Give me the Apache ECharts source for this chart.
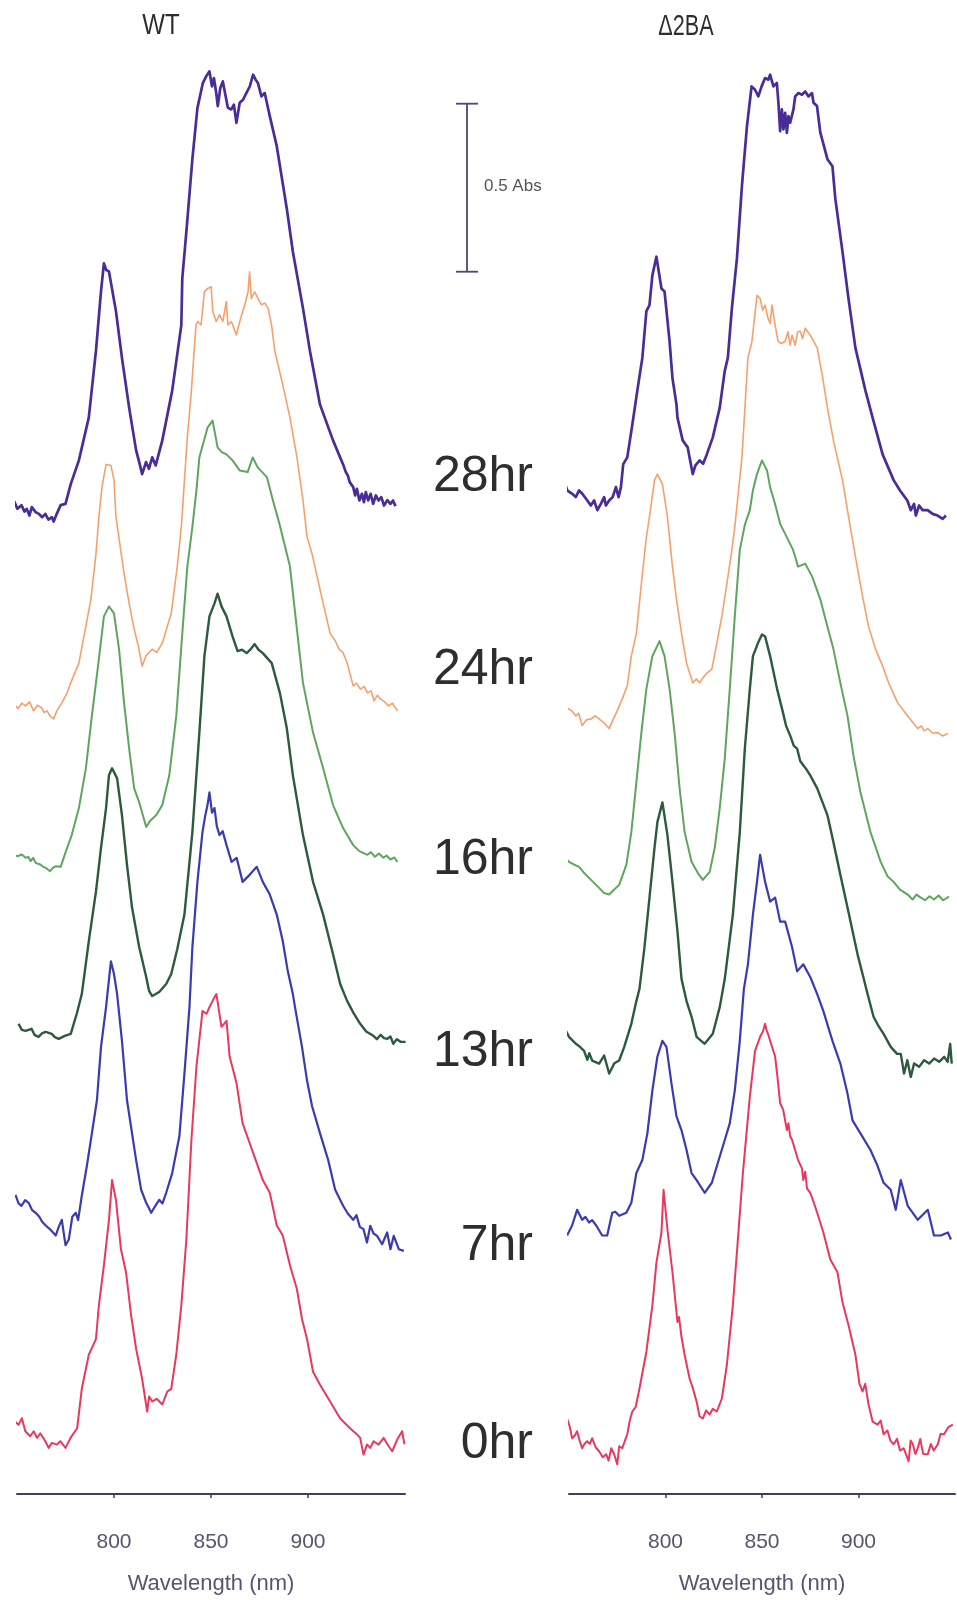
<!DOCTYPE html>
<html><head><meta charset="utf-8">
<script src="https://cdn.jsdelivr.net/npm/echarts@6/dist/echarts.min.js"></script>
<style>html,body{margin:0;padding:0;background:#fff}#c{width:957px;height:1600px}</style>
</head><body><div id="c"></div>
<script>
// ---------- text / ticks ----------
const panelTitles = ['WT', '\u03942BA'];
const timeLabels = ['28hr', '24hr', '16hr', '13hr', '7hr', '0hr'];
const tickValues = [800, 850, 900];
const xAxisName = 'Wavelength (nm)';
const scaleBarLabel = '0.5 Abs';
const scaleBarRange = [3.664, 4.164]; // 0.5 Abs span (stacked plot units)

// ---------- WT spectra [wavelength nm, stacked absorbance] ----------
const wt28 = [[745.6,2.970],[747.2,2.955],[748.6,2.972],[750.2,2.950],[752.3,2.961],[753.8,2.942],[755.0,2.950],[756.4,2.930],[757.6,2.955],[759.6,2.940],[761.2,2.935],[763.0,2.925],[764.6,2.935],[766.2,2.918],[768.0,2.925],[768.9,2.912],[770.5,2.935],[772.5,2.961],[775.0,2.965],[777.7,3.024],[781.9,3.095],[787.0,3.223],[790.7,3.423],[793.3,3.601],[794.8,3.685],[796.0,3.665],[797.4,3.661],[801.0,3.542],[804.1,3.402],[807.8,3.253],[811.4,3.125],[813.0,3.090],[814.5,3.054],[816.5,3.090],[818.0,3.070],[819.7,3.104],[821.5,3.080],[824.9,3.155],[830.0,3.304],[834.7,3.500],[835.2,3.640],[837.3,3.780],[840.4,3.997],[843.0,4.150],[845.8,4.225],[847.5,4.245],[849.2,4.260],[850.5,4.215],[851.5,4.240],[852.7,4.195],[853.5,4.156],[854.8,4.210],[856.1,4.230],[857.4,4.190],[858.7,4.151],[860.5,4.146],[861.8,4.160],[863.1,4.106],[864.8,4.166],[866.5,4.175],[868.2,4.195],[870.0,4.215],[871.7,4.250],[873.0,4.235],[874.2,4.225],[876.0,4.185],[877.7,4.195],[880.3,4.126],[883.9,4.036],[889.1,3.848],[892.2,3.720],[897.4,3.551],[901.0,3.423],[906.2,3.262],[912.9,3.155],[918.1,3.083],[919.5,3.060],[920.5,3.050],[921.5,3.030],[923.3,3.015],[924.3,2.990],[925.2,3.010],[926.5,2.975],[927.8,2.995],[928.8,2.970],[929.8,3.000],[931.0,2.975],[932.3,2.995],[933.6,2.965],[935.0,2.990],[936.3,2.975],[937.8,2.985],[939.2,2.960],[940.9,2.976],[942.5,2.965],[943.8,2.975],[945.1,2.958]];
const wt24 = [[746.6,2.351],[748.5,2.365],[750.5,2.352],[752.5,2.368],[754.4,2.360],[756.5,2.372],[758.5,2.345],[760.5,2.362],[762.7,2.354],[764.0,2.340],[765.5,2.345],[767.0,2.330],[768.9,2.321],[770.5,2.345],[773.1,2.369],[775.5,2.395],[777.7,2.429],[781.9,2.488],[784.5,2.568],[788.1,2.679],[790.7,2.815],[792.2,2.926],[793.8,3.015],[795.9,3.083],[798.4,3.080],[800.0,3.036],[801.0,2.926],[805.2,2.756],[807.8,2.667],[810.4,2.589],[812.5,2.540],[814.5,2.479],[816.5,2.510],[819.7,2.530],[822.0,2.520],[824.9,2.548],[829.5,2.637],[832.6,2.777],[834.7,2.896],[837.8,3.164],[839.9,3.304],[841.4,3.432],[842.3,3.501],[843.2,3.511],[844.9,3.501],[846.6,3.600],[848.3,3.610],[850.1,3.615],[850.9,3.541],[852.7,3.511],[854.4,3.531],[856.1,3.511],[857.9,3.571],[858.7,3.501],[860.5,3.511],[863.1,3.471],[864.8,3.511],[867.4,3.561],[869.1,3.600],[869.9,3.660],[870.8,3.580],[872.5,3.600],[874.2,3.580],[876.0,3.561],[877.7,3.566],[879.4,3.551],[881.2,3.501],[882.9,3.422],[887.0,3.321],[890.7,3.223],[894.3,3.104],[897.4,2.976],[899.5,2.866],[902.1,2.815],[906.2,2.708],[911.4,2.577],[914.0,2.555],[916.0,2.530],[918.0,2.520],[920.2,2.488],[923.3,2.420],[925.0,2.428],[927.0,2.410],[929.0,2.418],[930.6,2.399],[932.5,2.405],[934.0,2.375],[935.8,2.392],[937.3,2.381],[939.5,2.372],[941.5,2.360],[943.5,2.368],[946.1,2.345]];
const wt16 = [[746.6,1.920],[748.5,1.912],[750.5,1.910],[752.5,1.915],[754.4,1.905],[755.8,1.908],[757.0,1.895],[758.3,1.905],[759.6,1.890],[762.0,1.885],[763.5,1.878],[764.8,1.875],[767.0,1.865],[768.5,1.875],[770.0,1.880],[772.5,1.878],[775.1,1.923],[778.2,1.973],[781.9,2.054],[785.5,2.173],[788.6,2.330],[792.2,2.500],[794.8,2.628],[797.4,2.658],[800.0,2.637],[802.6,2.530],[805.2,2.369],[807.8,2.232],[810.4,2.113],[813.0,2.071],[816.6,1.997],[818.5,2.015],[821.8,2.033],[824.9,2.063],[828.5,2.152],[832.1,2.330],[835.2,2.577],[837.8,2.777],[840.4,2.896],[842.5,3.006],[844.0,3.104],[848.2,3.193],[850.8,3.214],[853.4,3.134],[855.5,3.120],[858.0,3.113],[861.1,3.095],[864.8,3.065],[868.9,3.060],[871.5,3.104],[874.1,3.074],[878.8,3.045],[881.9,2.976],[885.0,2.911],[887.6,2.851],[890.7,2.777],[894.3,2.589],[897.4,2.429],[902.6,2.280],[907.8,2.173],[912.9,2.063],[918.1,1.994],[923.3,1.943],[926.5,1.925],[930.6,1.914],[932.5,1.922],[934.5,1.908],[936.5,1.918],[938.9,1.905],[940.5,1.912],[942.5,1.900],[944.5,1.906],[946.1,1.893]];
const wt13 = [[750.8,1.408],[752.5,1.390],[754.4,1.387],[757.5,1.393],[759.0,1.375],[761.1,1.369],[763.0,1.380],[764.8,1.384],[767.9,1.378],[769.5,1.368],[771.5,1.363],[774.6,1.372],[777.7,1.378],[780.8,1.438],[783.4,1.497],[787.0,1.655],[790.7,1.804],[793.3,1.935],[795.9,2.054],[797.4,2.152],[799.0,2.173],[801.6,2.143],[804.1,2.033],[806.7,1.884],[809.3,1.756],[813.0,1.637],[816.6,1.548],[818.1,1.506],[819.7,1.491],[823.3,1.503],[826.9,1.527],[829.5,1.557],[832.6,1.631],[836.3,1.735],[840.4,1.982],[844.0,2.280],[846.6,2.509],[849.2,2.628],[851.8,2.667],[853.4,2.696],[855.4,2.658],[858.0,2.628],[861.1,2.568],[863.7,2.524],[866.0,2.528],[868.4,2.518],[870.5,2.530],[872.5,2.545],[874.5,2.528],[876.7,2.518],[881.3,2.488],[885.5,2.399],[889.1,2.292],[892.2,2.152],[897.4,1.973],[902.6,1.833],[907.8,1.735],[912.9,1.616],[916.6,1.527],[920.2,1.476],[923.5,1.440],[926.9,1.408],[930.0,1.385],[933.7,1.372],[935.5,1.362],[937.5,1.375],[939.2,1.365],[940.9,1.363],[942.5,1.370],[944.0,1.348],[945.8,1.362],[947.7,1.354],[950.3,1.354]];
const wt7 = [[749.2,0.896],[750.8,0.870],[752.3,0.863],[754.2,0.880],[756.0,0.872],[757.8,0.850],[759.6,0.842],[761.5,0.830],[763.0,0.815],[764.8,0.804],[767.5,0.790],[770.0,0.774],[771.5,0.800],[773.1,0.821],[775.0,0.745],[776.7,0.762],[778.5,0.830],[780.3,0.842],[781.5,0.820],[783.4,0.893],[786.0,0.982],[788.6,1.080],[791.2,1.179],[793.3,1.339],[795.9,1.458],[798.4,1.595],[800.0,1.557],[801.6,1.497],[804.1,1.357],[806.7,1.179],[809.3,1.080],[811.4,1.000],[814.0,0.911],[816.6,0.872],[819.2,0.842],[821.0,0.860],[823.3,0.881],[825.0,0.870],[826.9,0.902],[830.0,0.961],[833.7,1.071],[836.3,1.259],[838.9,1.458],[840.4,1.637],[843.0,1.833],[845.6,1.982],[847.0,2.030],[848.2,2.063],[849.2,2.101],[850.5,2.040],[851.8,2.054],[853.0,2.000],[854.4,1.973],[856.0,1.985],[858.0,1.943],[860.6,1.893],[863.2,1.905],[866.3,1.833],[869.9,1.854],[873.6,1.878],[876.7,1.833],[880.3,1.795],[883.9,1.735],[887.0,1.655],[889.6,1.565],[892.2,1.497],[893.3,1.458],[896.9,1.339],[899.5,1.238],[902.1,1.161],[906.2,1.080],[910.4,1.000],[914.0,0.911],[918.1,0.863],[920.5,0.840],[923.3,0.821],[925.0,0.835],[926.7,0.800],[928.6,0.793],[930.4,0.753],[932.1,0.803],[933.8,0.780],[935.6,0.773],[938.2,0.748],[940.8,0.783],[942.5,0.733],[944.2,0.773],[946.8,0.733],[949.4,0.728]];
const wt0 = [[749.0,0.217],[750.8,0.207],[752.5,0.227],[754.3,0.188],[756.8,0.173],[758.6,0.188],[760.3,0.168],[762.0,0.182],[764.6,0.158],[766.3,0.138],[768.0,0.153],[770.6,0.148],[772.4,0.158],[775.0,0.138],[777.6,0.168],[781.0,0.197],[783.4,0.315],[787.0,0.417],[790.7,0.464],[792.2,0.565],[794.8,0.685],[797.4,0.821],[799.0,0.940],[801.0,0.881],[803.6,0.732],[806.2,0.664],[808.8,0.536],[811.4,0.435],[814.5,0.345],[817.1,0.247],[818.1,0.292],[819.7,0.277],[822.0,0.285],[824.9,0.268],[827.5,0.307],[829.5,0.315],[832.1,0.417],[834.7,0.565],[837.3,0.762],[839.9,1.060],[842.5,1.280],[845.6,1.446],[847.7,1.438],[849.2,1.458],[851.3,1.482],[852.8,1.497],[855.4,1.399],[858.0,1.417],[859.6,1.310],[863.2,1.229],[866.3,1.110],[869.9,1.051],[873.6,0.991],[876.7,0.940],[880.3,0.902],[883.9,0.804],[887.0,0.774],[890.7,0.685],[894.3,0.613],[896.9,0.524],[899.5,0.464],[902.6,0.366],[906.2,0.327],[911.4,0.277],[916.6,0.226],[921.8,0.196],[925.0,0.180],[926.9,0.168],[928.6,0.118],[930.4,0.148],[932.1,0.138],[933.8,0.158],[936.4,0.148],[939.0,0.168],[941.6,0.143],[943.4,0.128],[946.0,0.163],[948.5,0.188],[949.7,0.149]];

// ---------- Δ2BA spectra ----------
const d2ba28 = [[744.3,3.005],[745.2,3.054],[746.2,3.015],[747.4,3.035],[749.1,3.005],[751.7,2.995],[753.5,2.985],[755.2,3.005],[756.9,2.995],[759.5,2.975],[761.3,2.960],[763.0,2.975],[764.7,2.946],[766.5,2.965],[768.2,2.985],[769.1,2.960],[770.8,2.975],[772.6,2.985],[774.3,3.015],[775.7,2.985],[776.9,3.015],[778.1,3.084],[780.2,3.104],[782.8,3.202],[785.4,3.304],[788.0,3.402],[790.1,3.542],[791.7,3.560],[793.2,3.649],[795.3,3.705],[797.9,3.610],[799.5,3.601],[802.1,3.452],[803.6,3.342],[805.7,3.262],[806.2,3.223],[808.9,3.155],[811.5,3.134],[814.1,3.054],[815.5,3.080],[817.7,3.095],[819.5,3.085],[821.4,3.113],[824.5,3.164],[828.1,3.253],[830.7,3.363],[832.3,3.402],[834.4,3.551],[837.0,3.699],[839.6,3.917],[842.2,4.095],[844.6,4.215],[846.4,4.205],[848.1,4.185],[849.8,4.215],[851.6,4.240],[853.3,4.235],[854.2,4.250],[855.9,4.215],[857.7,4.225],[858.5,4.166],[859.4,4.081],[860.3,4.146],[861.1,4.086],[862.0,4.136],[862.9,4.076],[863.7,4.126],[864.6,4.106],[866.3,4.146],[867.2,4.185],[868.9,4.195],[870.7,4.190],[872.4,4.200],[874.1,4.185],[875.9,4.195],[876.7,4.166],[878.5,4.156],[880.2,4.077],[883.9,3.997],[886.5,3.976],[888.0,3.878],[891.7,3.720],[894.8,3.580],[898.4,3.432],[903.6,3.304],[907.3,3.223],[912.5,3.113],[918.2,3.036],[921.5,3.005],[925.3,2.975],[927.1,2.946],[928.8,2.965],[929.7,2.930],[931.4,2.960],[933.2,2.946],[935.8,2.946],[938.4,2.935],[941.0,2.930],[943.6,2.920],[945.3,2.930]];
const d2ba24 = [[745.8,2.345],[747.5,2.360],[749.0,2.354],[751.5,2.345],[753.6,2.330],[755.0,2.338],[756.8,2.301],[759.0,2.318],[761.5,2.321],[763.5,2.330],[765.6,2.321],[768.0,2.310],[770.8,2.292],[772.5,2.315],[774.5,2.339],[777.6,2.381],[780.2,2.420],[782.3,2.509],[784.9,2.577],[787.5,2.726],[790.1,2.866],[791.7,2.926],[794.3,3.036],[795.8,3.054],[798.4,3.024],[801.0,2.926],[803.6,2.777],[805.7,2.679],[808.3,2.577],[810.9,2.488],[814.1,2.429],[816.0,2.440],[817.7,2.429],[819.5,2.445],[821.4,2.458],[824.0,2.470],[826.6,2.548],[829.2,2.628],[831.8,2.726],[834.4,2.827],[835.9,2.896],[839.6,3.104],[842.7,3.402],[844.8,3.452],[847.4,3.589],[849.0,3.580],[850.3,3.545],[851.6,3.560],[853.1,3.521],[854.2,3.505],[855.2,3.560],[856.8,3.500],[858.3,3.452],[860.0,3.445],[862.0,3.452],[863.5,3.480],[864.5,3.440],[865.6,3.470],[867.2,3.440],[868.5,3.480],[869.8,3.482],[871.0,3.460],[872.4,3.491],[875.0,3.470],[878.6,3.432],[881.2,3.351],[883.9,3.253],[887.0,3.155],[891.7,3.036],[895.3,2.911],[898.4,2.807],[902.1,2.688],[905.2,2.598],[908.8,2.530],[912.5,2.479],[915.6,2.429],[920.3,2.369],[925.5,2.330],[930.7,2.292],[932.5,2.300],[934.0,2.285],[935.9,2.292],[938.5,2.278],[941.1,2.280],[943.5,2.270],[946.3,2.277]];
const d2ba16 = [[746.4,1.929],[748.0,1.905],[750.0,1.893],[752.5,1.885],[755.2,1.878],[757.5,1.862],[760.4,1.845],[763.0,1.830],[765.6,1.815],[768.0,1.800],[770.8,1.795],[773.0,1.808],[776.0,1.824],[779.7,1.884],[782.3,1.982],[784.9,2.131],[787.5,2.280],[790.1,2.411],[793.2,2.509],[796.9,2.554],[799.5,2.509],[802.1,2.411],[804.7,2.280],[807.3,2.113],[809.9,1.982],[813.5,1.893],[816.7,1.860],[819.3,1.839],[822.9,1.863],[825.5,1.935],[828.1,2.054],[830.7,2.202],[833.3,2.411],[835.9,2.628],[838.5,2.827],[841.1,2.902],[843.7,2.946],[845.3,3.006],[847.4,3.054],[850.0,3.095],[852.6,3.065],[854.2,3.015],[856.8,2.964],[859.4,2.905],[862.0,2.875],[866.1,2.827],[868.7,2.777],[872.4,2.786],[876.0,2.747],[880.2,2.679],[883.9,2.598],[887.0,2.530],[890.6,2.429],[894.3,2.330],[897.4,2.211],[901.0,2.101],[906.2,1.982],[911.5,1.893],[915.0,1.850],[918.2,1.833],[921.5,1.810],[925.5,1.795],[928.0,1.780],[930.0,1.795],[932.3,1.786],[934.5,1.778],[936.8,1.790],[939.1,1.780],[941.5,1.792],[943.8,1.778],[946.9,1.789]];
const d2ba13 = [[747.4,1.399],[750.0,1.369],[753.6,1.348],[755.5,1.340],[757.8,1.327],[759.5,1.300],[760.5,1.320],[762.0,1.298],[765.6,1.289],[768.2,1.313],[770.8,1.259],[773.5,1.290],[776.0,1.298],[778.6,1.339],[782.3,1.408],[784.9,1.476],[786.5,1.512],[789.1,1.637],[791.7,1.786],[794.3,1.935],[795.8,2.012],[798.4,2.071],[801.0,1.973],[803.6,1.833],[806.2,1.685],[808.3,1.542],[810.9,1.476],[813.5,1.429],[816.1,1.369],[820.3,1.348],[824.5,1.378],[828.1,1.458],[830.7,1.542],[834.9,1.735],[838.5,1.982],[841.1,2.232],[843.7,2.411],[845.3,2.509],[847.9,2.548],[850.0,2.574],[851.6,2.568],[854.2,2.509],[857.8,2.411],[860.9,2.339],[862.5,2.300],[864.6,2.271],[866.5,2.240],[868.2,2.232],[869.8,2.195],[871.4,2.182],[873.0,2.170],[875.0,2.152],[878.6,2.113],[883.9,2.033],[887.0,1.952],[890.6,1.854],[894.3,1.756],[899.5,1.616],[902.1,1.557],[904.7,1.497],[907.8,1.429],[910.5,1.400],[913.0,1.378],[916.7,1.339],[920.0,1.318],[921.9,1.318],[923.6,1.259],[925.3,1.299],[927.1,1.249],[928.8,1.289],[931.4,1.279],[934.0,1.299],[936.6,1.289],[939.2,1.304],[941.8,1.294],[944.4,1.309],[946.2,1.294],[947.5,1.348],[948.3,1.289]];
const d2ba7 = [[749.0,0.774],[751.6,0.804],[754.2,0.851],[756.8,0.821],[758.5,0.830],[760.4,0.813],[762.0,0.820],[764.1,0.804],[767.2,0.774],[769.8,0.774],[772.4,0.842],[774.0,0.845],[776.0,0.833],[779.7,0.842],[782.3,0.872],[784.9,0.961],[788.0,1.000],[790.6,1.080],[793.2,1.208],[795.8,1.310],[798.4,1.357],[800.5,1.339],[803.1,1.229],[805.7,1.131],[808.3,1.089],[810.9,1.030],[813.5,0.961],[816.1,0.940],[820.3,0.902],[824.0,0.932],[827.1,0.991],[830.7,1.060],[833.3,1.110],[835.9,1.208],[838.5,1.357],[840.6,1.512],[842.7,1.586],[845.3,1.735],[847.4,1.833],[849.0,1.914],[851.6,1.833],[854.2,1.774],[856.8,1.786],[859.4,1.714],[862.0,1.714],[865.6,1.637],[868.2,1.565],[871.4,1.586],[875.0,1.548],[878.6,1.497],[881.8,1.446],[886.5,1.357],[890.6,1.289],[894.3,1.199],[896.9,1.119],[901.0,1.080],[906.2,1.030],[909.9,0.982],[913.0,0.932],[916.7,0.911],[919.3,0.851],[921.9,0.940],[925.5,0.863],[930.7,0.821],[935.9,0.851],[939.1,0.774],[942.7,0.774],[946.3,0.783],[947.9,0.762]];
const d2ba0 = [[749.0,0.226],[750.5,0.200],[751.6,0.167],[753.0,0.175],[754.2,0.188],[755.5,0.160],[756.8,0.137],[758.0,0.150],[759.4,0.158],[760.8,0.150],[762.0,0.167],[763.8,0.140],[765.6,0.128],[767.5,0.110],[769.3,0.119],[770.5,0.100],[771.9,0.137],[773.4,0.119],[775.0,0.089],[776.0,0.143],[777.6,0.137],[779.0,0.160],[780.2,0.179],[781.5,0.220],[782.8,0.247],[784.5,0.260],[786.5,0.315],[790.1,0.426],[793.2,0.565],[795.3,0.693],[797.9,0.783],[799.0,0.911],[801.0,0.792],[803.6,0.664],[806.2,0.515],[807.0,0.530],[808.3,0.470],[809.9,0.417],[812.5,0.345],[814.0,0.320],[816.1,0.277],[817.7,0.232],[819.3,0.226],[821.0,0.250],[822.9,0.238],[824.5,0.255],[826.6,0.247],[829.2,0.286],[831.8,0.387],[834.9,0.565],[837.5,0.762],[840.1,0.961],[843.7,1.190],[846.4,1.327],[849.0,1.369],[850.5,1.385],[851.6,1.408],[852.3,1.390],[853.1,1.378],[854.2,1.357],[856.8,1.310],[858.0,1.250],[859.4,1.170],[861.0,1.150],[862.9,1.090],[863.7,1.110],[864.6,1.071],[865.6,1.060],[868.7,1.000],[870.7,0.975],[871.4,0.940],[872.4,0.965],[873.3,0.915],[875.0,0.902],[877.0,0.870],[878.6,0.842],[881.8,0.783],[885.4,0.702],[889.1,0.664],[891.7,0.574],[894.8,0.506],[898.4,0.417],[900.5,0.330],[902.1,0.307],[903.5,0.330],[905.2,0.268],[907.3,0.217],[909.9,0.208],[911.5,0.220],[913.0,0.179],[915.0,0.190],[916.5,0.160],[918.2,0.149],[920.0,0.165],[921.5,0.130],[923.4,0.137],[926.0,0.098],[927.0,0.160],[928.1,0.150],[929.5,0.120],[930.7,0.137],[932.0,0.165],[933.5,0.120],[935.9,0.119],[937.5,0.150],[939.0,0.130],[941.1,0.149],[942.5,0.180],[944.3,0.179],[946.5,0.200],[948.9,0.208]];

const wtSeries = [wt28, wt24, wt16, wt13, wt7, wt0];
const d2baSeries = [d2ba28, d2ba24, d2ba16, d2ba13, d2ba7, d2ba0];

// ---------- styles ----------
const colors = ['#4a2c98', '#f7a06c', '#5ea65e', '#2c5a3c', '#3a3ab2', '#e8385e'];
const widths = [2.7, 1.6, 2.0, 2.4, 2.2, 2.0];
const axisColor = '#3e3e66';
const textColor = '#2e2e2e';
const tickColor = '#58546e';
const FONT = 'Liberation Sans, Arial, sans-serif';

const chart = echarts.init(document.getElementById('c'), null, {renderer: 'canvas'});

const grids = [
  {left: 17, width: 388, top: 58, bottom: 97},
  {left: 569, width: 386, top: 58, bottom: 97},
  {left: 440, width: 54, top: 58, bottom: 97}
];
function wlAxis(i) {
  return {
    type: 'value', gridIndex: i, min: 750, max: 950, interval: 50,
    axisLine: {show: true, lineStyle: {color: axisColor, width: 2}},
    axisTick: {show: true, customValues: tickValues, length: 4, inside: false, lineStyle: {color: axisColor, width: 1.5}},
    axisLabel: {show: true, customValues: tickValues, color: tickColor, fontSize: 21, fontFamily: FONT, margin: 38},
    splitLine: {show: false},
    name: xAxisName, nameLocation: 'middle', nameGap: 79,
    nameTextStyle: {color: tickColor, fontSize: 22, fontFamily: FONT}
  };
}
const xAxes = [wlAxis(0), wlAxis(1), {type: 'value', gridIndex: 2, min: -1, max: 1, show: false}];
const yAxes = [0, 1, 2].map(i => ({type: 'value', gridIndex: i, min: 0, max: 4.3, show: false}));

const series = [];
[wtSeries, d2baSeries].forEach((group, g) => {
  group.forEach((data, k) => {
    series.push({
      type: 'line', xAxisIndex: g, yAxisIndex: g, data: data,
      showSymbol: false, symbol: 'none', clip: false, smooth: false,
      lineStyle: {color: colors[k], width: widths[k], join: 'round'},
      z: 2 + (5 - k), silent: true, animation: false
    });
  });
});
// scale bar (vertical line + caps) in its own grid, same y scale
const barStyle = {color: '#4c4870', width: 1.8};
series.push({type: 'line', xAxisIndex: 2, yAxisIndex: 2, data: [[0, scaleBarRange[0]], [0, scaleBarRange[1]]], symbol: 'none', lineStyle: barStyle, animation: false, silent: true});
series.push({type: 'line', xAxisIndex: 2, yAxisIndex: 2, data: [[-0.41, scaleBarRange[0]], [0.41, scaleBarRange[0]]], symbol: 'none', lineStyle: barStyle, animation: false, silent: true});
series.push({type: 'line', xAxisIndex: 2, yAxisIndex: 2, data: [[-0.41, scaleBarRange[1]], [0.41, scaleBarRange[1]]], symbol: 'none', lineStyle: barStyle, animation: false, silent: true});

// texts
const labelY = [477, 670, 860, 1052, 1246, 1444];
const graphic = [];
timeLabels.forEach((t, i) => {
  graphic.push({type: 'text', x: 533, y: labelY[i], style: {text: t, fill: textColor, font: '50px ' + FONT, align: 'right', verticalAlign: 'middle'}});
});
graphic.push({type: 'text', x: 161, y: 26, scaleX: 0.8, style: {text: panelTitles[0], fill: textColor, font: '30px ' + FONT, align: 'center', verticalAlign: 'middle'}});
graphic.push({type: 'text', x: 686, y: 27, scaleX: 0.72, style: {text: panelTitles[1], fill: textColor, font: '30px ' + FONT, align: 'center', verticalAlign: 'middle'}});
graphic.push({type: 'text', x: 484, y: 186, style: {text: scaleBarLabel, fill: '#555555', font: '17px ' + FONT, align: 'left', verticalAlign: 'middle'}});

chart.setOption({
  animation: false,
  backgroundColor: '#ffffff',
  grid: grids,
  xAxis: xAxes,
  yAxis: yAxes,
  series: series,
  graphic: graphic
});
</script>
</body></html>
